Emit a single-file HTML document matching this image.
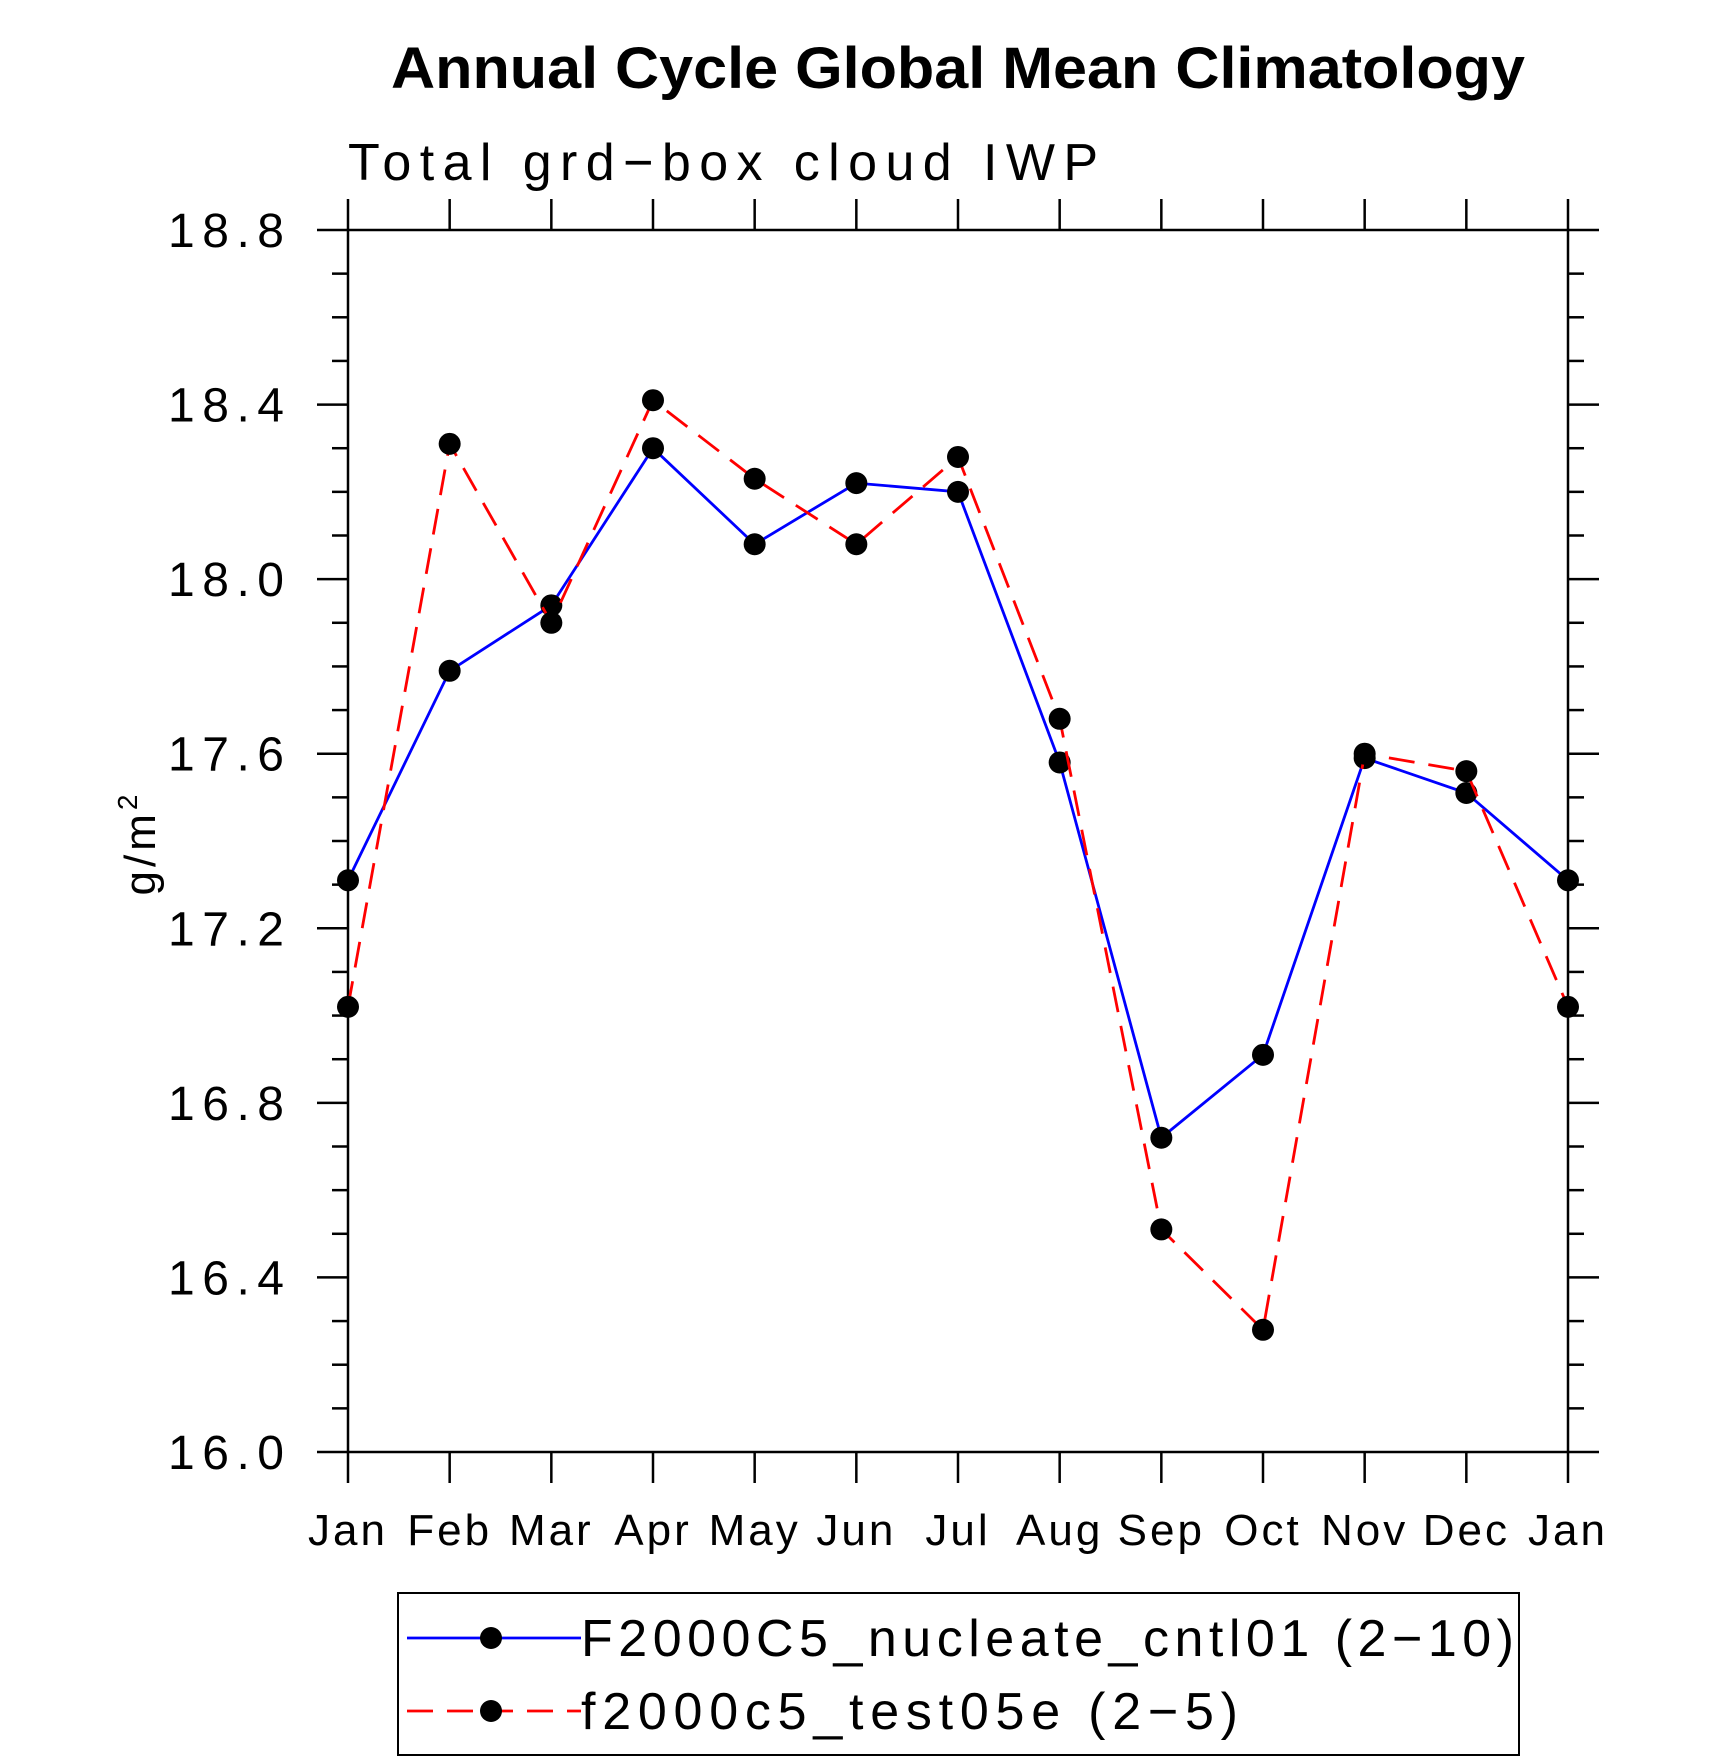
<!DOCTYPE html>
<html><head><meta charset="utf-8"><style>
html,body{margin:0;padding:0;background:#fff;}
svg{display:block;font-family:"Liberation Sans",sans-serif;}
</style></head><body>
<svg id="chart" width="1710" height="1762" viewBox="0 0 1710 1762">
<text x="958" y="88" text-anchor="middle" font-weight="bold" font-size="58" textLength="1134" lengthAdjust="spacingAndGlyphs">Annual Cycle Global Mean Climatology</text>
<text x="348" y="180" font-size="52" textLength="750" lengthAdjust="spacing">Total grd−box cloud IWP</text>
<text transform="translate(155,843) rotate(-90)" text-anchor="middle" font-size="44" letter-spacing="4">g/m<tspan dy="-18" font-size="28">2</tspan></text>
<g id="axes"></g>
<g id="series"></g>
<rect x="398" y="1593" width="1121" height="162" fill="none" stroke="#000" stroke-width="2"/>
<g>
<line x1="407" y1="1638" x2="581" y2="1638" stroke="#0000ff" stroke-width="2.8"/>
<circle cx="491" cy="1638" r="11" fill="#000"/>
<text x="581" y="1656" font-size="52" textLength="933" lengthAdjust="spacing">F2000C5_nucleate_cntl01 (2−10)</text>
</g>
<g>
<line x1="407" y1="1711" x2="581" y2="1711" stroke="#ff0000" stroke-width="2.8" stroke-dasharray="26,14"/>
<circle cx="491" cy="1711" r="11" fill="#000"/>
<text x="581" y="1729" font-size="52" textLength="657" lengthAdjust="spacing">f2000c5_test05e (2−5)</text>
</g>
</svg>
<script>
const months = ["Jan","Feb","Mar","Apr","May","Jun","Jul","Aug","Sep","Oct","Nov","Dec","Jan"];
const cntl01 = [17.31,17.79,17.94,18.30,18.08,18.22,18.20,17.58,16.72,16.91,17.59,17.51,17.31];
const test05e = [17.02,18.31,17.90,18.41,18.23,18.08,18.28,17.68,16.51,16.28,17.60,17.56,17.02];
const yTicks = ["16.0","16.4","16.8","17.2","17.6","18.0","18.4","18.8"];
const yMin = 16.0, yMax = 18.8;
const L=348,R=1568,T=230,B=1452;
const NS="http://www.w3.org/2000/svg";
const xs = i => L + (R-L)*i/(months.length-1);
const ys = v => B - (B-T)*(v-yMin)/(yMax-yMin);
function mk(tag, attrs, parent){const e=document.createElementNS(NS,tag);for(const k in attrs)e.setAttribute(k,attrs[k]);parent.appendChild(e);return e;}
const ax=document.getElementById('axes');
const frame=mk('rect',{x:L,y:T,width:R-L,height:B-T,fill:'none',stroke:'#000','stroke-width':2.5},ax);


for(let k=0;k<=28;k++){
  const v=yMin+k*0.1, y=ys(v), major=k%4===0, len=major?31:16;
  const t1=mk('line',{x1:L-len,y1:y,x2:L,y2:y,stroke:'#000','stroke-width':2.5},ax);
  
  
  const t2=mk('line',{x1:R,y1:y,x2:R+len,y2:y,stroke:'#000','stroke-width':2.5},ax);
  
  
}
yTicks.forEach(s=>{
  const t=mk('text',{x:168,y:ys(parseFloat(s))+17,'font-size':48,textLength:116,lengthAdjust:'spacing'},ax);
  t.textContent=s;
  
  
});
months.forEach((m,i)=>{
  const x=xs(i);
  const a=mk('line',{x1:x,y1:B,x2:x,y2:B+31,stroke:'#000','stroke-width':2.5},ax);
  
  
  const b=mk('line',{x1:x,y1:T-31,x2:x,y2:T,stroke:'#000','stroke-width':2.5},ax);
  
  
  const t=mk('text',{x:x,y:1545,'text-anchor':'middle','font-size':44,'letter-spacing':3},ax);
  t.textContent=m;
  
  
});
const sg=document.getElementById('series');
function drawSeries(vals,color,dash,name){
  const pts=vals.map((v,i)=>xs(i)+','+ys(v)).join(' ');
  const pl=mk('polyline',{points:pts,fill:'none',stroke:color,'stroke-width':2.8},sg);
  if(dash)pl.setAttribute('stroke-dasharray',dash);
  
  
  vals.forEach((v,i)=>{
    const c=mk('circle',{cx:xs(i),cy:ys(v),r:11,fill:'#000'},sg);
    
    
  });
}
drawSeries(cntl01,'#0000ff',null,'cntl01');
drawSeries(test05e,'#ff0000','26,14','test05e');
</script>
</body></html>
